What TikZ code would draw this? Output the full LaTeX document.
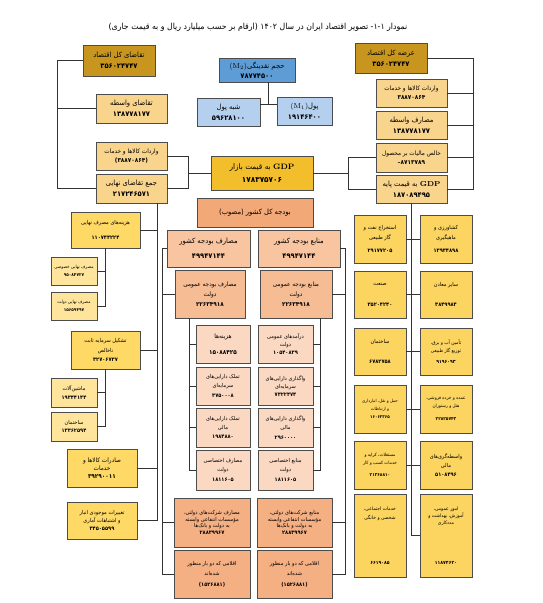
\documentclass[tikz,border=0pt]{standalone}
\usepackage{fontspec}
\newfontfamily\fa[Script=Arabic,FakeStretch=0.94]{DejaVu Sans}
\TeXXeTstate=1
\newcommand{\rl}[1]{\beginR#1\endR}
\newcommand{\nb}[1]{{\bfseries#1}}
\usetikzlibrary{shadows}
\definecolor{cDk}{HTML}{C8961F}
\definecolor{cTan}{HTML}{F9D48C}
\definecolor{cYel}{HTML}{FFD966}
\definecolor{cLt}{HTML}{FFE59C}
\definecolor{cGdp}{HTML}{F2BE2C}
\definecolor{cSec}{HTML}{FCD460}
\definecolor{cBl}{HTML}{5E9CD6}
\definecolor{cLb}{HTML}{B4D0EE}
\definecolor{bHd}{HTML}{F3A877}
\definecolor{bK}{HTML}{F8C5A0}
\definecolor{bO}{HTML}{F6BC93}
\definecolor{bIn}{HTML}{FAD8C2}
\definecolor{bLo}{HTML}{F4AF83}
\begin{document}
\begin{tikzpicture}[x=1pt,y=-1pt,
	box/.style={draw=black!70,line width=.5pt,align=center,inner sep=1pt,drop shadow={shadow xshift=.8pt,shadow yshift=-.8pt,opacity=.25},font=\fa\fontsize{7.2}{8.6}\selectfont},
	sm/.style={font=\fa\fontsize{6.1}{7.3}\selectfont},
	xs/.style={font=\fa\fontsize{5.4}{6.6}\selectfont},
	sz/.style 2 args={minimum width=#1pt,minimum height=#2pt},
	ln/.style={draw=black!80,line width=.7pt}]
	\useasboundingbox[fill=white] (0,0) rectangle (542,603);
	\node[font=\fa\fontsize{8.3}{10}\selectfont] (title) at (258,27) {\rl{نمودار ۱-۱- تصویر اقتصاد ایران در سال ۱۴۰۲ (ارقام بر حسب میلیارد ریال و به قیمت جاری)}};

	\node[box,fill=cDk,sz={72}{31}] (tkol) at (119,60.5) {\rl{تقاضای کل اقتصاد}\\[2pt]\nb{۳۵۶۰۲۴۷۴۷}};
	\node[box,fill=cTan,sz={71}{29}] (tvas) at (131.5,108.5) {\rl{تقاضای واسطه}\\[2pt]\nb{۱۳۸۷۷۸۱۷۷}};
	\node[box,sm,fill=cTan,sz={71}{28}] (tvar) at (131.5,156) {\rl{واردات کالاها و خدمات}\\[2pt]\nb{(۳۸۸۷۰۸۶۴)}};
	\node[box,fill=cTan,sz={71}{29}] (tjam) at (131.5,188.5) {\rl{جمع تقاضای نهایی}\\[2pt]\nb{۲۱۷۲۴۶۵۷۱}};

	\node[box,fill=cDk,sz={72}{30}] (akol) at (391,58) {\rl{عرضه کل اقتصاد}\\[2pt]\nb{۳۵۶۰۲۴۷۴۷}};
	\node[box,sm,fill=cTan,sz={71}{28}] (avar) at (411.5,93) {\rl{واردات کالاها و خدمات}\\[2pt]\nb{۳۸۸۷۰۸۶۴}};
	\node[box,fill=cTan,sz={71}{28}] (amas) at (411.5,125) {\rl{مصارف واسطه}\\[2pt]\nb{۱۳۸۷۷۸۱۷۷}};
	\node[box,sm,fill=cTan,sz={71}{29}] (amal) at (411.5,157.5) {\rl{خالص مالیات بر محصول}\\[2pt]\nb{\textrm{-}۸۷۱۳۷۸۹}};
	\node[box,fill=cTan,sz={71}{28}] (agdp) at (411.5,189) {\rl{\textrm{\bfseries GDP} به قیمت پایه}\\[2pt]\nb{۱۸۷۰۸۹۴۹۵}};

	\node[box,fill=cGdp,sz={102}{34},font=\fa\fontsize{7.8}{9.4}\selectfont] (gdpb) at (262,173) {\rl{\textrm{\bfseries GDP} به قیمت بازار}\\[3pt]\nb{۱۷۸۳۷۵۷۰۶}};

	\node[box,fill=cBl,sz={76}{24}] (m2) at (257,70) {\rl{حجم نقدینگی\beginL\textrm{(M\textsubscript{2})}\endL}\\[1pt]\nb{۷۸۷۷۴۵۰۰}};
	\node[box,fill=cLb,sz={63}{28}] (shebh) at (228.5,112.5) {\rl{شبه پول}\\[2pt]\nb{۵۹۶۲۸۱۰۰}};
	\node[box,fill=cLb,sz={55}{28}] (pool) at (304.5,111) {\rl{پول\beginL\textrm{(M\textsubscript{1})}\endL}\\[2pt]\nb{۱۹۱۴۶۴۰۰}};

	\draw[ln] (tkol.west) -- ++(-25,0) coordinate (lb) |- (tjam.west);
	\draw[ln] (tvas.west) -- (tvas.west -| lb);
	\draw[ln] (akol.east) -- ++(46,0) coordinate (rb) |- (agdp.east);
	\draw[ln] (avar.east) -- (avar.east -| rb);
	\draw[ln] (amas.east) -- (amas.east -| rb);
	\draw[ln] (amal.east) -- (amal.east -| rb);
	\draw[ln] (tvar.east) -- ++(21,0) coordinate (gl) |- (tjam.east);
	\draw[ln] (gdpb.west) -- (gdpb.west -| gl);
	\draw[ln] (amal.west) -- ++(-27,0) coordinate (gr) |- (agdp.west);
	\draw[ln] (gdpb.east) -- (gdpb.east -| gr);
	\coordinate (mj) at (268,104);
	\draw[ln] (m2.south -| mj) -- (mj);
	\draw[ln] (shebh.east |- mj) -- (pool.west |- mj);

	\node[box,fill=bHd,sz={116}{29}] (bud) at (255,212.5) {\rl{بودجه کل کشور (مصوب)}};
	\node[box,fill=bK,sz={83}{37}] (masK) at (208.5,248.5) {\rl{مصارف بودجه کشور}\\[6pt]\nb{۴۹۹۴۷۱۴۴}};
	\node[box,fill=bK,sz={82}{37}] (manK) at (299,248.5) {\rl{منابع بودجه کشور}\\[6pt]\nb{۴۹۹۴۷۱۴۴}};
	\node[box,sm,fill=bO,sz={70}{48}] (masO) at (210,294) {\rl{مصارف بودجه عمومی}\\[3pt]\rl{دولت}\\[3pt]\nb{۲۲۶۳۴۹۱۸}};
	\node[box,sm,fill=bO,sz={72}{48}] (manO) at (296,294) {\rl{منابع بودجه عمومی}\\[3pt]\rl{دولت}\\[3pt]\nb{۲۲۶۳۴۹۱۸}};
	\node[box,sm,fill=bIn,sz={54}{38}] (hz) at (223,344) {\rl{هزینه‌ها}\\[9pt]\nb{۱۵۰۸۸۴۲۵}};
	\node[box,xs,fill=bIn,sz={54}{38}] (tms) at (223,386) {\rl{تملک دارایی‌های}\\[2pt]\rl{سرمایه‌ای}\\[3pt]\nb{۳۷۵۰۰۰۸}};
	\node[box,xs,fill=bIn,sz={54}{39}] (tmm) at (223,427.5) {\rl{تملک دارایی‌های}\\[2pt]\rl{مالی}\\[3pt]\nb{۱۹۸۴۸۸۰}};
	\node[box,xs,fill=bIn,sz={54}{40}] (mse) at (223,470) {\rl{مصارف اختصاصی}\\[2pt]\rl{دولت}\\[3pt]\nb{۱۸۱۱۶۰۵}};
	\node[box,xs,fill=bIn,sz={55}{38}] (dar) at (285.5,344) {\rl{درآمدهای عمومی}\\[1pt]\rl{دولت}\\[1pt]\nb{۱۰۵۴۰۸۳۹}};
	\node[box,xs,fill=bIn,sz={55}{38}] (vsr) at (285.5,386) {\rl{واگذاری دارایی‌های}\\[2pt]\rl{سرمایه‌ای}\\[1pt]\nb{۷۳۲۲۴۷۴}};
	\node[box,xs,fill=bIn,sz={55}{39}] (vmm) at (285.5,427.5) {\rl{واگذاری دارایی‌های}\\[2pt]\rl{مالی}\\[3pt]\nb{۲۹۶۰۰۰۰}};
	\node[box,xs,fill=bIn,sz={55}{40}] (mne) at (285.5,470) {\rl{منابع اختصاصی}\\[2pt]\rl{دولت}\\[3pt]\nb{۱۸۱۱۶۰۵}};
	\node[box,xs,fill=bLo,sz={76}{49}] (msh) at (212,522.5) {\rl{مصارف شرکت‌های دولتی،}\\\rl{مؤسسات انتفاعی وابسته}\\\rl{به دولت و بانک‌ها}\\\nb{۲۸۸۳۹۹۶۷}};
	\node[box,xs,fill=bLo,sz={75}{49}] (mnsh) at (294.5,522.5) {\rl{منابع شرکت‌های دولتی،}\\\rl{مؤسسات انتفاعی وابسته}\\\rl{به دولت و بانک‌ها}\\\nb{۲۸۸۳۹۹۶۷}};
	\node[box,xs,fill=bLo,sz={76}{48}] (aqL) at (212,574) {\rl{اقلامی که دو بار منظور}\\[4pt]\rl{شده‌اند}\\[4pt]\nb{(۱۵۲۶۸۸۱)}};
	\node[box,xs,fill=bLo,sz={75}{48}] (aqR) at (294.5,574) {\rl{اقلامی که دو بار منظور}\\[4pt]\rl{شده‌اند}\\[4pt]\nb{(۱۵۲۶۸۸۱)}};

	\draw[ln] (masK.west) -- ++(-4,0) coordinate (ob) |- (aqL.west);
	\draw[ln] (masO.west) -- (masO.west -| ob);
	\draw[ln] (msh.west) -- (msh.west -| ob);
	\draw[ln] (manK.east) -- ++(5,0) coordinate (obr) |- (aqR.east);
	\draw[ln] (manO.east) -- (manO.east -| obr);
	\draw[ln] (mnsh.east) -- (mnsh.east -| obr);
	\coordinate (ib) at (189,0);
	\coordinate (ibr) at (320,0);
	\draw[ln] (masO.south -| ib) |- (mse.west);
	\draw[ln] (hz.west) -- (hz.west -| ib);
	\draw[ln] (tms.west) -- (tms.west -| ib);
	\draw[ln] (tmm.west) -- (tmm.west -| ib);
	\draw[ln] (manO.south -| ibr) |- (mne.east);
	\draw[ln] (dar.east) -- (dar.east -| ibr);
	\draw[ln] (vsr.east) -- (vsr.east -| ibr);
	\draw[ln] (vmm.east) -- (vmm.east -| ibr);

	\node[box,xs,fill=cYel,sz={69}{36}] (hmn) at (105.5,230) {\rl{هزینه‌های مصرف نهایی}\\[9pt]\nb{۱۱۰۷۴۴۲۲۴}};
	\node[box,fill=cLt,sz={46}{28},font=\fa\fontsize{4.4}{6}\selectfont] (mkh) at (74,271) {\rl{مصرف نهایی خصوصی}\\[2pt]\nb{۹۵۰۸۴۷۲۷}};
	\node[box,fill=cLt,sz={46}{28},font=\fa\fontsize{4.4}{6}\selectfont] (mdt) at (74,306) {\rl{مصرف نهایی دولت}\\[2pt]\nb{۱۵۶۵۹۴۹۷}};
	\node[box,xs,fill=cYel,sz={69}{38}] (tsh) at (105.5,350) {\rl{تشکیل سرمایه ثابت}\\[3pt]\rl{ناخالص}\\[3pt]\nb{۳۲۷۰۶۷۳۷}};
	\node[box,xs,fill=cLt,sz={46}{29}] (mash) at (74,392.5) {\rl{ماشین‌آلات}\\[2pt]\nb{۱۹۳۴۴۱۴۴}};
	\node[box,xs,fill=cLt,sz={46}{29}] (sakh) at (74,426.5) {\rl{ساختمان}\\[2pt]\nb{۱۳۳۶۲۵۹۴}};
	\node[box,sm,fill=cYel,sz={70}{38}] (sad) at (102,468) {\rl{صادرات کالاها و}\\[1pt]\rl{خدمات}\\[1pt]\nb{۳۹۲۹۰۰۱۱}};
	\node[box,xs,fill=cYel,sz={70}{37}] (tgh) at (102,520.5) {\rl{تغییرات موجودی انبار}\\[1pt]\rl{و اشتباهات آماری}\\[1pt]\nb{۳۴۵۰۵۵۹۹}};

	\coordinate (fd) at (157,0);
	\draw[ln] (tjam.south -| fd) |- (tgh.east);
	\draw[ln] (hmn.east) -- (hmn.east -| fd);
	\draw[ln] (tsh.east) -- (tsh.east -| fd);
	\draw[ln] (sad.east) -- (sad.east -| fd);
	\draw[ln] (hmn.south) |- (mdt.east);
	\draw[ln] (mkh.east) -- (mkh.east -| hmn.south);
	\draw[ln] (tsh.south) |- (sakh.east);
	\draw[ln] (mash.east) -- (mash.east -| tsh.south);

	\node[box,xs,fill=cSec,sz={52}{48}] (nft) at (380,239) {\rl{استخراج نفت و}\\[3pt]\rl{گاز طبیعی}\\[6pt]\nb{۲۹۱۷۷۲۰۵}};
	\node[box,xs,fill=cSec,sz={52}{48}] (kesh) at (446,239) {\rl{کشاورزی و}\\[3pt]\rl{ماهیگیری}\\[6pt]\nb{۱۳۹۳۴۸۹۸}};
	\node[box,xs,fill=cSec,sz={52}{47}] (sana) at (380,294.5) {\rl{صنعت}\\[14pt]\nb{۳۵۲۰۴۲۴۰}};
	\node[box,xs,fill=cSec,sz={52}{47}] (maad) at (446,294.5) {\rl{سایر معادن}\\[14pt]\nb{۳۸۴۹۹۸۴}};
	\node[box,xs,fill=cSec,sz={52}{47}] (sakht) at (380,351.5) {\rl{ساختمان}\\[14pt]\nb{۶۷۸۲۷۵۸}};
	\node[box,fill=cSec,sz={52}{47},font=\fa\fontsize{4.8}{6.2}\selectfont] (ab) at (446,351.5) {\rl{تأمین آب و برق،}\\[2pt]\rl{توزیع گاز طبیعی}\\[5pt]\nb{۹۱۹۶۰۹۳}};
	\node[box,fill=cSec,sz={52}{48},font=\fa\fontsize{4.3}{6}\selectfont] (haml) at (380,409) {\rl{حمل و نقل، انبارداری}\\[2pt]\rl{و ارتباطات}\\[2pt]\nb{۱۶۰۶۲۳۶۵}};
	\node[box,fill=cSec,sz={52}{48},font=\fa\fontsize{4.5}{6}\selectfont] (omde) at (446,409) {\rl{عمده و خرده فروشی،}\\[2pt]\rl{هتل و رستوران}\\[7pt]\nb{۲۲۸۲۵۷۴۳}};
	\node[box,fill=cSec,sz={52}{48},font=\fa\fontsize{4.5}{6}\selectfont] (most) at (380,465) {\rl{مستغلات، کرایه و}\\[2pt]\rl{خدمات کسب و کار}\\[6pt]\nb{۲۱۳۶۸۸۱۰}};
	\node[box,xs,fill=cSec,sz={52}{48}] (vasm) at (446,465) {\rl{واسطه‌گری‌های}\\[3pt]\rl{مالی}\\[2pt]\nb{۵۱۰۸۴۹۶}};
	\node[box,fill=cSec,sz={52}{83},font=\fa\fontsize{4.8}{6.2}\selectfont] (khad) at (380,535.5) {\rl{خدمات اجتماعی،}\\[3pt]\rl{شخصی و خانگی}\\[38pt]\nb{۶۶۱۹۰۸۵}};
	\node[box,fill=cSec,sz={52}{83},font=\fa\fontsize{4.8}{6.2}\selectfont] (omo) at (446,535.5) {\rl{امور عمومی،}\\[1pt]\rl{آموزش، بهداشت و}\\[1pt]\rl{مددکاری}\\[33pt]\nb{۱۱۸۷۴۶۲۰}};

	\draw[ln] (agdp.south) |- (omo.west);
	\draw[ln] (nft.east) -- (kesh.west);
	\draw[ln] (sana.east) -- (maad.west);
	\draw[ln] (sakht.east) -- (ab.west);
	\draw[ln] (haml.east) -- (omde.west);
	\draw[ln] (most.east) -- (vasm.west);
\end{tikzpicture}
\end{document}
